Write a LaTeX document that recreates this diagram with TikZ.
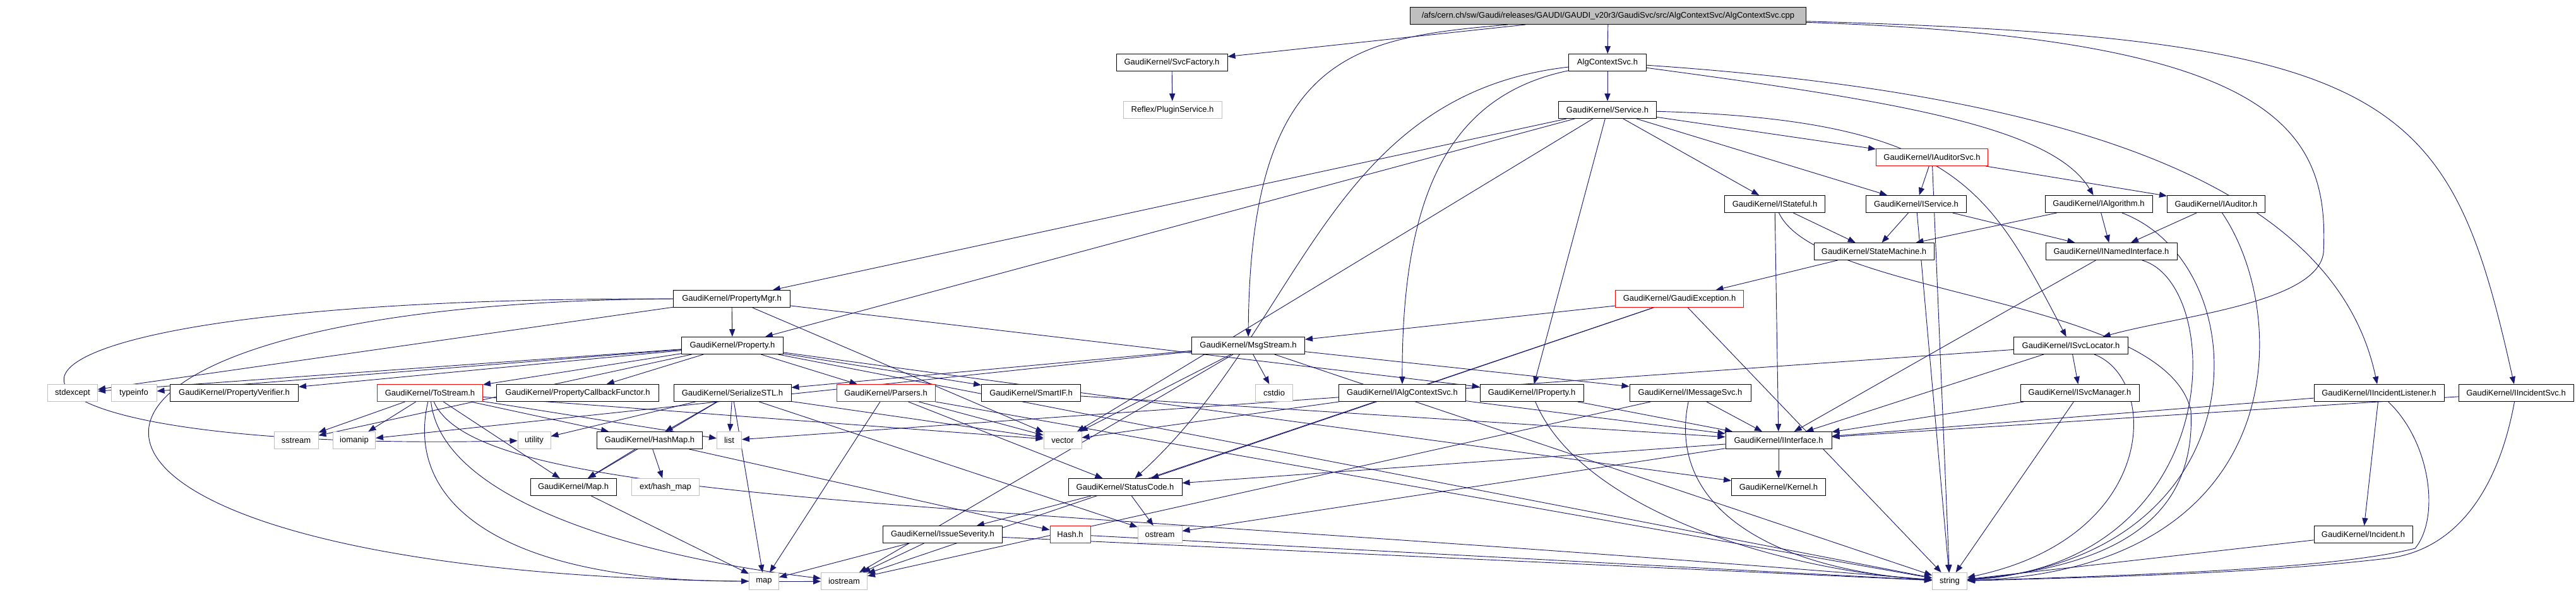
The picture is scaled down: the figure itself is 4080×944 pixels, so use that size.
\documentclass[tikz,border=0pt]{standalone}
\usepackage{fontspec}
\setmainfont{Liberation Sans}
\usepackage{xcolor}
\usetikzlibrary{arrows.meta}
\definecolor{edgeblue}{RGB}{25,25,112}
\definecolor{grey75}{RGB}{191,191,191}
\pgfdeclarelayer{background}
\pgfsetlayers{background,main}

\begin{document}
\begin{tikzpicture}[x=0.25pt, y=-0.25pt,
  file/.style={draw=black, line width=0.25pt, fill=white, inner sep=0pt,
    minimum height=6.75pt, font=\fontsize{3.25}{3.8}\selectfont},
  sysfile/.style={file, draw=grey75},
  redfile/.style={file, draw=red},
  rootfile/.style={file, fill=grey75},
  boxw/.style={minimum width=#1*0.25pt},
  dep/.style={draw=edgeblue, line width=0.23pt, -{Triangle[length=3pt,width=2.3pt]}}]
  \useasboundingbox (0,0) rectangle (4080,944);

  % Top rows
  \node[rootfile, boxw=627] (cpp) at (2547,25)
    {/afs/cern.ch/sw/Gaudi/releases/GAUDI/GAUDI\_v20r3/GaudiSvc/src/AlgContextSvc/AlgContextSvc.cpp};
  \node[file, boxw=176] (svcfactory) at (1856,99) {GaudiKernel/SvcFactory.h};
  \node[file, boxw=123] (algctxh) at (2546,99) {AlgContextSvc.h};
  \node[sysfile, boxw=156] (plugin) at (1857,174) {Reflex/PluginService.h};
  \node[file, boxw=155] (service) at (2546,174) {GaudiKernel/Service.h};
  \node[redfile, boxw=177] (iauditorsvc) at (3060,249) {GaudiKernel/IAuditorSvc.h};
  \node[file, boxw=159] (istateful) at (2811,323) {GaudiKernel/IStateful.h};
  \node[file, boxw=159] (iservice) at (3035,323) {GaudiKernel/IService.h};
  \node[file, boxw=170] (ialgorithm) at (3324,323) {GaudiKernel/IAlgorithm.h};
  \node[file, boxw=155] (iauditor) at (3510,323) {GaudiKernel/IAuditor.h};
  \node[file, boxw=190] (statemachine) at (2968,398) {GaudiKernel/StateMachine.h};
  \node[file, boxw=208] (inamed) at (3344,398) {GaudiKernel/INamedInterface.h};
  \node[file, boxw=185] (propmgr) at (1159,473) {GaudiKernel/PropertyMgr.h};
  \node[redfile, boxw=203] (gaudiexc) at (2660,473) {GaudiKernel/GaudiException.h};
  \node[file, boxw=161] (property) at (1160,547) {GaudiKernel/Property.h};
  \node[file, boxw=179] (msgstream) at (1977,547) {GaudiKernel/MsgStream.h};
  \node[file, boxw=181] (isvcloc) at (3280,547) {GaudiKernel/ISvcLocator.h};

  % Middle row
  \node[sysfile, boxw=79] (stdexcept) at (115,622) {stdexcept};
  \node[sysfile, boxw=72] (typeinfo) at (212,622) {typeinfo};
  \node[file, boxw=203] (propverif) at (371,622) {GaudiKernel/PropertyVerifier.h};
  \node[redfile, boxw=167] (tostream) at (681,622) {GaudiKernel/ToStream.h};
  \node[file, boxw=257] (propcb) at (915,622) {GaudiKernel/PropertyCallbackFunctor.h};
  \node[file, boxw=186] (serialize) at (1160,622) {GaudiKernel/SerializeSTL.h};
  \node[redfile, boxw=156] (parsers) at (1403,622) {GaudiKernel/Parsers.h};
  \node[file, boxw=157] (smartif) at (1633,622) {GaudiKernel/SmartIF.h};
  \node[sysfile, boxw=59] (cstdio) at (2018,622) {cstdio};
  \node[file, boxw=201] (ialgctx) at (2221,622) {GaudiKernel/IAlgContextSvc.h};
  \node[file, boxw=164] (iproperty) at (2426,622) {GaudiKernel/IProperty.h};
  \node[file, boxw=192] (imsgsvc) at (2677,622) {GaudiKernel/IMessageSvc.h};
  \node[file, boxw=188] (isvcmgr) at (3294,622) {GaudiKernel/ISvcManager.h};
  \node[file, boxw=206] (iinclistener) at (3768,622) {GaudiKernel/IIncidentListener.h};
  \node[file, boxw=182] (iincsvc) at (3985,622) {GaudiKernel/IIncidentSvc.h};

  % Lower rows
  \node[sysfile, boxw=70] (sstream) at (469,697) {sstream};
  \node[sysfile, boxw=67] (iomanip) at (561,697) {iomanip};
  \node[sysfile, boxw=52] (utility) at (846,697) {utility};
  \node[file, boxw=167] (hashmap) at (1029,697) {GaudiKernel/HashMap.h};
  \node[sysfile, boxw=39] (list) at (1155,697) {list};
  \node[sysfile, boxw=60] (vector) at (1683,697) {vector};
  \node[file, boxw=168] (iinterface) at (2817,697) {GaudiKernel/IInterface.h};
  \node[file, boxw=136] (maph) at (908,771) {GaudiKernel/Map.h};
  \node[sysfile, boxw=107] (exthashmap) at (1054,771) {ext/hash\_map};
  \node[file, boxw=180] (statuscode) at (1782,771) {GaudiKernel/StatusCode.h};
  \node[file, boxw=149] (kernel) at (2817,771) {GaudiKernel/Kernel.h};
  \node[file, boxw=189] (issuesev) at (1493,846) {GaudiKernel/IssueSeverity.h};
  \node[redfile, boxw=64] (hashh) at (1695,846) {Hash.h};
  \node[sysfile, boxw=70] (ostream) at (1837,846) {ostream};
  \node[file, boxw=156] (incident) at (3743,846) {GaudiKernel/Incident.h};
  \node[sysfile, boxw=47] (map) at (1210,920) {map};
  \node[sysfile, boxw=73] (iostream) at (1337,920) {iostream};
  \node[sysfile, boxw=55] (string) at (3088,920) {string};

  \begin{pgfonlayer}{background}
  % Includes of the source file
  \draw[dep] (cpp) -- (svcfactory);
  \draw[dep] (cpp) -- (algctxh);
  \draw[dep] (cpp) .. controls (2150,60) and (1980,80) .. (msgstream);
  \draw[dep] (cpp) .. controls (3600,60) and (3690,200) .. (3680,400)
    .. controls (3670,480) and (3450,500) .. (isvcloc);
  \draw[dep] (cpp) .. controls (3800,60) and (3880,150) .. (iincsvc);
  \draw[dep] (svcfactory) -- (plugin);

  % AlgContextSvc.h and Service.h
  \draw[dep] (algctxh) -- (service);
  \draw[dep] (algctxh) .. controls (2300,150) and (2220,300) .. (ialgctx);
  \draw[dep] (algctxh) .. controls (2100,150) and (2060,520) .. (statuscode);
  \draw[dep] (algctxh) .. controls (3000,160) and (3250,200) .. (ialgorithm);
  \draw[dep] (algctxh) .. controls (3300,150) and (3700,300) .. (iinclistener);
  \draw[dep] (service) -- (propmgr);
  \draw[dep] (service) -- (property);
  \draw[dep] (service) -- (vector);
  \draw[dep] (service) -- (iproperty);
  \draw[dep] (service) -- (istateful);
  \draw[dep] (service) -- (iservice);
  \draw[dep] (service) -- (iauditorsvc);
  \draw[dep] (service) .. controls (3100,190) and (3150,300) .. (isvcloc);

  % Interfaces
  \draw[dep] (iauditorsvc) -- (iservice);
  \draw[dep] (iauditorsvc) -- (iauditor);
  \draw[dep] (iauditorsvc) -- (string);
  \draw[dep] (istateful) -- (statemachine);
  \draw[dep] (istateful) -- (iinterface);
  \draw[dep] (istateful) .. controls (2880,470) and (3430,470) .. (3470,650)
    .. controls (3480,850) and (3300,900) .. (string);
  \draw[dep] (iservice) -- (statemachine);
  \draw[dep] (iservice) -- (inamed);
  \draw[dep] (iservice) -- (string);
  \draw[dep] (ialgorithm) -- (statemachine);
  \draw[dep] (ialgorithm) -- (inamed);
  \draw[dep] (ialgorithm) .. controls (3580,420) and (3590,880) .. (string);
  \draw[dep] (iauditor) -- (inamed);
  \draw[dep] (iauditor) .. controls (3630,500) and (3630,900) .. (string);
  \draw[dep] (statemachine) -- (gaudiexc);
  \draw[dep] (inamed) -- (iinterface);
  \draw[dep] (inamed) .. controls (3525,450) and (3530,890) .. (string);
  \draw[dep] (isvcloc) -- (iinterface);
  \draw[dep] (isvcloc) -- (isvcmgr);
  \draw[dep] (isvcloc) -- (list);
  \draw[dep] (isvcloc) .. controls (3420,600) and (3420,850) .. (string);
  \draw[dep] (isvcmgr) -- (iinterface);
  \draw[dep] (isvcmgr) -- (string);
  \draw[dep] (iinclistener) -- (iinterface);
  \draw[dep] (iinclistener) -- (incident);
  \draw[dep] (iinclistener) .. controls (3850,700) and (3865,820) .. (3825,868)
    .. controls (3700,900) and (3400,910) .. (string);
  \draw[dep] (iincsvc) -- (iinterface);
  \draw[dep] (iincsvc) .. controls (3960,760) and (3900,870) .. (3780,884)
    .. controls (3600,905) and (3400,912) .. (string);
  \draw[dep] (incident) -- (string);
  \draw[dep] (ialgctx) -- (iinterface);
  \draw[dep] (ialgctx) -- (vector);
  \draw[dep] (iproperty) -- (iinterface);
  \draw[dep] (iproperty) .. controls (2500,800) and (2800,900) .. (string);
  \draw[dep] (imsgsvc) -- (iinterface);
  \draw[dep] (imsgsvc) -- (iostream);
  \draw[dep] (imsgsvc) .. controls (2640,800) and (2800,900) .. (string);
  \draw[dep] (smartif) -- (iinterface);
  \draw[dep] (iinterface) -- (kernel);
  \draw[dep] (iinterface) -- (statuscode);
  \draw[dep] (iinterface) -- (ostream);

  % Properties and messages
  \draw[dep] (propmgr) -- (property);
  \draw[dep] (propmgr) -- (iproperty);
  \draw[dep] (propmgr) -- (vector);
  \draw[dep] (propmgr) -- (stdexcept);
  \draw[dep] (propmgr.west) .. controls (-200,470) and (-150,720) .. (utility);
  \draw[dep] (propmgr.west) .. controls (-100,480) and (-50,930) .. (iostream);
  \draw[dep] (gaudiexc) -- (msgstream);
  \draw[dep] (gaudiexc) -- (statuscode);
  \draw[dep] (gaudiexc) -- (iostream);
  \draw[dep] (gaudiexc) -- (string);
  \draw[dep] (property) -- (stdexcept);
  \draw[dep] (property) -- (typeinfo);
  \draw[dep] (property) -- (propverif);
  \draw[dep] (property) -- (tostream);
  \draw[dep] (property) -- (propcb);
  \draw[dep] (property) -- (parsers);
  \draw[dep] (property) -- (smartif);
  \draw[dep] (property) -- (sstream);
  \draw[dep] (property) -- (kernel);
  \draw[dep] (property) -- (string);
  \draw[dep] (msgstream) -- (serialize);
  \draw[dep] (msgstream) -- (cstdio);
  \draw[dep] (msgstream) -- (imsgsvc);
  \draw[dep] (msgstream) -- (vector);
  \draw[dep] (msgstream) -- (iomanip);
  \draw[dep] (msgstream) -- (iostream);
  \draw[dep] (msgstream) -- (string);

  % Streaming and containers
  \draw[dep] (tostream) -- (sstream);
  \draw[dep] (tostream) -- (iomanip);
  \draw[dep] (tostream) -- (maph);
  \draw[dep] (tostream) -- (hashmap);
  \draw[dep] (tostream) -- (vector);
  \draw[dep] (tostream) -- (list);
  \draw[dep] (tostream) .. controls (640,800) and (800,920) .. (map);
  \draw[dep] (tostream) .. controls (700,790) and (1000,880) .. (iostream);
  \draw[dep] (tostream) .. controls (760,800) and (1500,790) .. (string);
  \draw[dep] (serialize) -- (hashmap);
  \draw[dep] (serialize) -- (list);
  \draw[dep] (serialize) -- (map);
  \draw[dep] (serialize) -- (ostream);
  \draw[dep] (serialize) -- (vector);
  \draw[dep] (serialize) -- (maph);
  \draw[dep] (serialize) -- (utility);
  \draw[dep] (parsers) -- (map);
  \draw[dep] (parsers) -- (statuscode);
  \draw[dep] (parsers) -- (vector);
  \draw[dep] (parsers) -- (string);
  \draw[dep] (hashmap) -- (maph);
  \draw[dep] (hashmap) -- (exthashmap);
  \draw[dep] (hashmap) -- (hashh);
  \draw[dep] (maph) -- (map);
  \draw[dep] (statuscode) -- (issuesev);
  \draw[dep] (statuscode) -- (ostream);
  \draw[dep] (issuesev) -- (map);
  \draw[dep] (issuesev) -- (iostream);
  \draw[dep] (issuesev) -- (string);
  \draw[dep] (hashh) -- (string);
  \end{pgfonlayer}
\end{tikzpicture}
\end{document}
